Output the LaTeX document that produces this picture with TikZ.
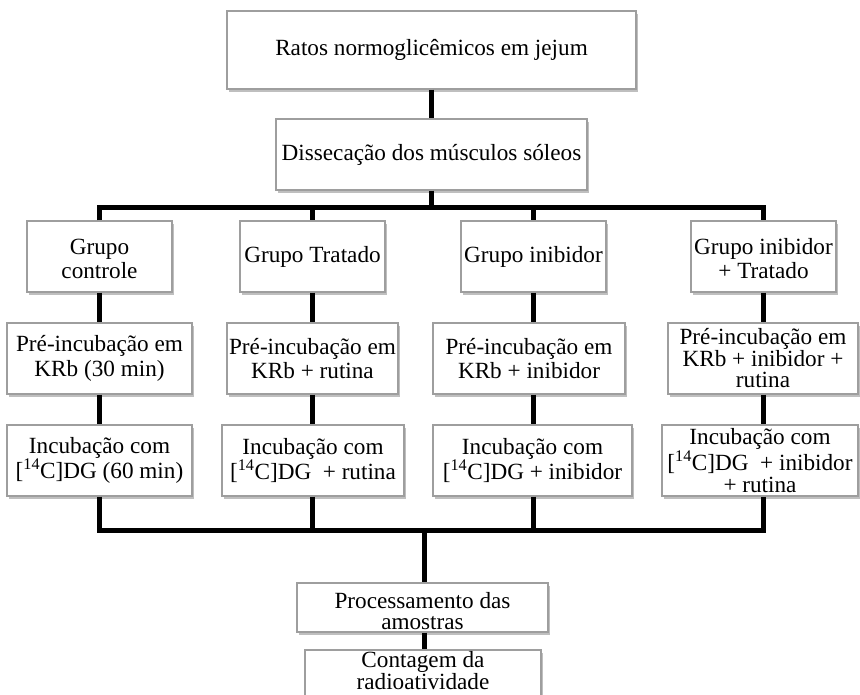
\documentclass[tikz,border=0pt]{standalone}
\usepackage{fontspec}
\setmainfont{Liberation Serif}
\usetikzlibrary{shadows}
% invisible struts that lower the first line / raise the last line of a box
\newcommand{\lowerline}[1]{\rule{0pt}{#1}}
\newcommand{\raiseline}[1]{\rule[-#1]{0pt}{#1}}
\begin{document}
\begin{tikzpicture}[x=1pt,y=-1pt,
  box/.style={draw=black!38, line width=1.1pt, fill=white, align=center,
    inner sep=0pt, font=\fontsize{23.2}{24.5}\selectfont,
    drop shadow={shadow xshift=2.2pt, shadow yshift=-2.6pt, fill=black!45, opacity=0.55}},
  tight/.style={font=\fontsize{23.2}{21.5}\selectfont},
  link/.style={line width=5pt, line join=miter}]
\useasboundingbox (0,0) rectangle (860,694);
\clip (0,0) rectangle (860,694);
\fill[white] (0,0) rectangle (860,694);

% top of the flow
\node[box, minimum width=409pt, minimum height=78pt] (rat) at (431.5,50) {Ratos normoglicêmicos em jejum};
\node[box, minimum width=311pt, minimum height=71pt] (dis) at (431.5,154.5) {Dissecação dos músculos sóleos};

% groups
\node[box, minimum width=145pt, minimum height=71pt] (g1) at (99.5,256.5) {\lowerline{20pt}Grupo\\controle};
\node[box, minimum width=145pt, minimum height=71pt] (g2) at (312.5,256.5) {Grupo Tratado};
\node[box, minimum width=145pt, minimum height=71pt] (g3) at (533.5,256.5) {Grupo inibidor};
\node[box, minimum width=145pt, minimum height=71pt] (g4) at (763.5,256.5) {\lowerline{20pt}Grupo inibidor\\+ Tratado};

% pre-incubation
\node[box, minimum width=185pt, minimum height=71pt] (p1) at (99.5,358.5) {Pré-incubação em\\KRb (30 min)};
\node[box, minimum width=171pt, minimum height=71pt] (p2) at (312.5,358.5) {Pré-incubação em\\KRb + rutina};
\node[box, minimum width=192pt, minimum height=71pt] (p3) at (529,358.5) {Pré-incubação em\\KRb + inibidor};
\node[box, tight, minimum width=190pt, minimum height=71pt] (p4) at (763,358.5) {Pré-incubação em\\KRb + inibidor +\\rutina};

% incubation
\node[box, minimum width=185pt, minimum height=71pt] (i1) at (99.5,460.5) {Incubação com\\{[}\textsuperscript{14}C{]}DG (60 min)};
\node[box, minimum width=182pt, minimum height=71pt] (i2) at (313,460.5) {Incubação com\\{[}\textsuperscript{14}C{]}DG\ \ + rutina};
\node[box, minimum width=199pt, minimum height=71pt] (i3) at (532.5,460.5) {Incubação com\\{[}\textsuperscript{14}C{]}DG + inibidor};
\node[box, tight, minimum width=196pt, minimum height=71pt] (i4) at (760,460.5) {Incubação com\\{[}\textsuperscript{14}C{]}DG\ \ + inibidor\\+ rutina};

% final steps (the last box runs past the lower edge)
\node[box, tight, minimum width=251pt, minimum height=49pt] (proc) at (422.5,607.5) {\lowerline{23pt}Processamento das\\amostras};
\node[box, tight, minimum width=236pt, minimum height=50pt] (cont) at (423,675) {Contagem da\\radioatividade\raiseline{9pt}};

% connectors
\coordinate (top) at (431,207);
\coordinate (bot) at (424,530);
\draw[link] (rat.south -| top) -- (dis.north -| top);
\draw[link] (dis.south -| top) -- (top);
\draw[link] (g1.north) -- (g1.north |- top) -- (g4.north |- top) -- (g4.north);
\draw[link] (g2.north |- top) -- (g2.north);
\draw[link] (g3.north |- top) -- (g3.north);

\foreach \c in {1,2,3,4}{
  \draw[link] (g\c.south) -- (g\c.south |- p\c.north);
  \draw[link] (g\c.south |- p\c.south) -- (g\c.south |- i\c.north);
}

\draw[link] (g1.south |- i1.south) -- (g1.south |- bot) -- (g4.south |- bot) -- (g4.south |- i4.south);
\draw[link] (g2.south |- i2.south) -- (g2.south |- bot);
\draw[link] (g3.south |- i3.south) -- (g3.south |- bot);
\draw[link] (bot) -- (bot |- proc.north);
\draw[link] (bot |- proc.south) -- (bot |- cont.north);
\end{tikzpicture}
\end{document}
